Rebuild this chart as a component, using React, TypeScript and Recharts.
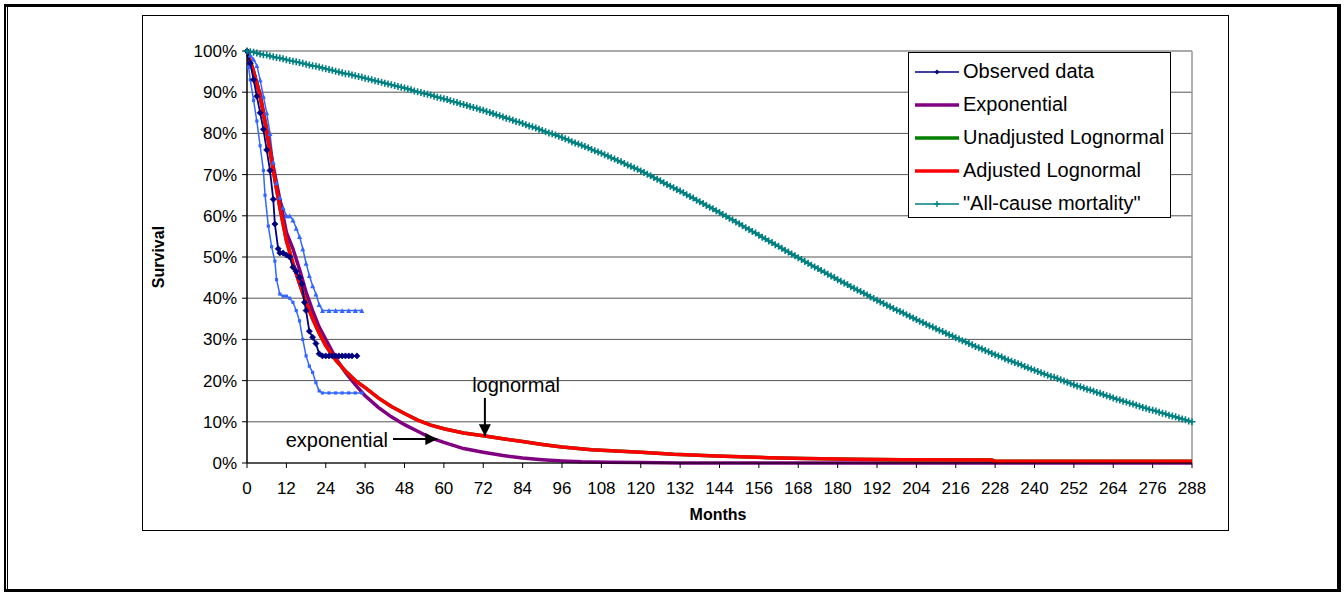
import { LineChart, Line, XAxis, YAxis, CartesianGrid, Legend, ReferenceLine, ReferenceDot } from "recharts"

const FONT = "'Liberation Sans', Arial, sans-serif"

// month ticks and survival ticks
const monthTicks = [0, 12, 24, 36, 48, 60, 72, 84, 96, 108, 120, 132, 144, 156, 168, 180, 192, 204, 216, 228, 240, 252, 264, 276, 288]
const survivalTicks = [0, 10, 20, 30, 40, 50, 60, 70, 80, 90, 100]

// Kaplan-Meier observed data
const obsMonths = [0, 1, 2, 3, 4, 5, 6, 7, 8, 8.5, 9.5, 10, 11, 12, 13, 14, 15, 16, 16.7, 17.5, 18, 19, 20, 21, 22, 23, 24, 25, 26, 27, 28, 29, 30, 31, 32, 33.5]
const obsSurvival = [100, 97, 93, 89, 85, 81, 76, 71, 64, 58, 52, 51, 51, 50.5, 50, 47.5, 46.5, 45, 43.5, 39, 37, 32, 30.5, 29, 26.5, 26, 26, 26, 26, 26, 26, 26, 26, 26, 26, 26]

// upper / lower confidence bounds (light blue)
const upperMonths = [0, 1, 2, 3, 4, 5, 6, 7, 8, 9, 10, 11, 12, 13, 14, 15, 16, 17, 18, 19, 20, 21, 22, 23, 25, 27, 29, 31, 33, 35]
const upperSurvival = [100, 99, 98, 96.5, 93, 89, 85, 80, 73, 68, 64.5, 62, 60, 60, 59, 57, 55, 52, 48.5, 45.5, 43, 41, 38.5, 37, 37, 37, 37, 37, 37, 37]
const lowerMonths = [0, 0.5, 1, 2, 3, 4, 5, 5.5, 6.5, 7.5, 8.5, 9, 10, 11, 12, 13, 14, 15, 16, 17, 18, 19, 20, 21, 22, 23, 25, 27, 29, 31, 33, 35]
const lowerSurvival = [100, 96, 93, 88, 83, 77, 71, 65, 57.5, 52.5, 49, 44.5, 41, 40.5, 40.5, 40, 39, 37, 34.5, 30, 26, 23.5, 22, 19.5, 17.5, 17, 17, 17, 17, 17, 17, 17]

// exponential fit
const expMonths = [0, 2, 4, 6, 8, 10, 12, 14, 16, 18, 20, 22, 24, 27, 30, 33, 36, 40, 44, 48, 52, 56, 60, 66, 72, 78, 84, 90, 96, 102, 110, 120, 132, 150, 180, 210, 240, 270, 288]
const expSurvival = [100, 95, 89.5, 81, 72, 64, 56, 52, 47, 41.5, 37, 33, 30, 25.5, 22, 19, 16.3, 13.5, 11.2, 9.3, 7.7, 6.1, 5.0, 3.5, 2.6, 1.8, 1.2, 0.8, 0.5, 0.3, 0.2, 0.1, 0, 0, 0, 0, 0, 0, 0]

// lognormal fits (unadjusted lies underneath the adjusted curve)
const lognMonths = [0, 2, 4, 6, 8, 10, 12, 14, 16, 18, 20, 22, 24, 27, 30, 33, 36, 40, 44, 48, 52, 56, 60, 66, 72, 78, 84, 90, 96, 105, 120, 130, 143, 159, 170, 185, 200, 227, 228, 288]
const adjLognSurvival = [100, 95, 89, 80.5, 71, 62, 54, 48.5, 43.5, 39, 35, 31.5, 28.5, 25, 22.3, 20, 18.3, 15.8, 13.7, 12, 10.4, 9.2, 8.3, 7.3, 6.6, 5.9, 5.2, 4.5, 3.9, 3.2, 2.6, 2.1, 1.7, 1.3, 1.1, 0.9, 0.8, 0.7, 0.4, 0.4]
const unadjLognSurvival = [100, 95, 89, 80.5, 71, 62, 54, 48.5, 43.5, 39, 35, 31.5, 28.5, 25, 22.3, 20, 18.3, 15.8, 13.7, 12, 10.4, 9.2, 8.3, 7.3, 6.6, 5.9, 5.2, 4.5, 3.9, 3.2, 2.6, 2.1, 1.7, 1.3, 1.1, 0.9, 0.8, 0.7, 0.4, 0.4]

// all-cause mortality, one value per month (index = month 0..288)
const allCauseSurvival = [
  100, 99.8, 99.7, 99.5, 99.3, 99.1, 99.0, 98.8, 98.6, 98.4, 98.3, 98.1,
  97.9, 97.7, 97.5, 97.4, 97.2, 97.0, 96.8, 96.6, 96.4, 96.3, 96.1, 95.9,
  95.7, 95.5, 95.3, 95.1, 94.9, 94.7, 94.5, 94.4, 94.2, 94.0, 93.8, 93.6,
  93.4, 93.2, 93.0, 92.8, 92.6, 92.4, 92.2, 92.0, 91.8, 91.6, 91.4, 91.2,
  91.0, 90.8, 90.6, 90.3, 90.1, 89.9, 89.7, 89.5, 89.3, 89.0, 88.8, 88.6,
  88.4, 88.2, 87.9, 87.7, 87.5, 87.2, 87.0, 86.8, 86.5, 86.3, 86.1, 85.8,
  85.6, 85.3, 85.1, 84.8, 84.5, 84.3, 84.0, 83.7, 83.5, 83.2, 82.9, 82.7,
  82.4, 82.1, 81.8, 81.6, 81.3, 81.0, 80.7, 80.4, 80.1, 79.9, 79.6, 79.3,
  79.0, 78.7, 78.4, 78.0, 77.7, 77.4, 77.1, 76.8, 76.5, 76.1, 75.8, 75.5,
  75.2, 74.8, 74.5, 74.1, 73.8, 73.4, 73.1, 72.7, 72.3, 72.0, 71.6, 71.3,
  70.9, 70.5, 70.1, 69.7, 69.3, 68.9, 68.5, 68.0, 67.6, 67.2, 66.8, 66.4,
  66.0, 65.6, 65.1, 64.7, 64.3, 63.8, 63.4, 63.0, 62.5, 62.1, 61.7, 61.2,
  60.8, 60.3, 59.9, 59.4, 59.0, 58.5, 58.1, 57.6, 57.1, 56.7, 56.2, 55.8,
  55.3, 54.8, 54.4, 53.9, 53.5, 53.0, 52.6, 52.1, 51.6, 51.2, 50.7, 50.3,
  49.8, 49.4, 48.9, 48.5, 48.0, 47.6, 47.2, 46.7, 46.3, 45.8, 45.4, 45.0,
  44.5, 44.1, 43.7, 43.3, 42.8, 42.4, 42.0, 41.6, 41.2, 40.8, 40.3, 39.9,
  39.5, 39.1, 38.7, 38.3, 37.9, 37.5, 37.1, 36.8, 36.4, 36.0, 35.6, 35.2,
  34.8, 34.4, 34.1, 33.7, 33.3, 33.0, 32.6, 32.2, 31.9, 31.5, 31.1, 30.8,
  30.4, 30.1, 29.7, 29.4, 29.0, 28.7, 28.3, 28.0, 27.7, 27.3, 27.0, 26.6,
  26.3, 26.0, 25.7, 25.3, 25.0, 24.7, 24.4, 24.1, 23.8, 23.4, 23.1, 22.8,
  22.5, 22.2, 21.9, 21.6, 21.3, 21.0, 20.8, 20.5, 20.2, 19.9, 19.6, 19.3,
  19.0, 18.7, 18.5, 18.2, 17.9, 17.7, 17.4, 17.1, 16.9, 16.6, 16.3, 16.1,
  15.8, 15.5, 15.3, 15.0, 14.8, 14.5, 14.3, 14.0, 13.8, 13.5, 13.3, 13.0,
  12.8, 12.6, 12.3, 12.1, 11.9, 11.6, 11.4, 11.2, 10.9, 10.7, 10.5, 10.2,
  10.0,
]

const NAVY = "#000080"
const LIGHT_BLUE = "#3366FF"
const PURPLE = "#800080"
const GREEN = "#008000"
const RED = "#FF0000"
const TEAL = "#008080"

const toPoints = (months: number[], values: number[]) => months.map((m, i) => ({ month: m, value: values[i] }))

const observedData = toPoints(obsMonths, obsSurvival)
const upperData = toPoints(upperMonths, upperSurvival)
const lowerData = toPoints(lowerMonths, lowerSurvival)
const expData = toPoints(expMonths, expSurvival)
const unadjData = toPoints(lognMonths, unadjLognSurvival)
const adjData = toPoints(lognMonths, adjLognSurvival)
const allCauseData = allCauseSurvival.map((v, i) => ({ month: i, value: v }))

const diamondDot = (p: any) => {
  if (p.cx == null || p.cy == null) return <g key={`d-${p.index}`} />
  const s = 3
  return <path key={`d-${p.index}`} d={`M${p.cx},${p.cy - s}L${p.cx + s},${p.cy}L${p.cx},${p.cy + s}L${p.cx - s},${p.cy}Z`} fill={NAVY} stroke={NAVY} strokeWidth={0.8} />
}

const triangleDot = (p: any) => {
  if (p.cx == null || p.cy == null) return <g key={`t-${p.index}`} />
  const s = 2.5
  return <path key={`t-${p.index}`} d={`M${p.cx},${p.cy - s}L${p.cx + s},${p.cy + s}L${p.cx - s},${p.cy + s}Z`} fill={LIGHT_BLUE} />
}

const squareDot = (p: any) => {
  if (p.cx == null || p.cy == null) return <g key={`s-${p.index}`} />
  const s = 1.6
  return <rect key={`s-${p.index}`} x={p.cx - s} y={p.cy - s} width={s * 2} height={s * 2} fill={LIGHT_BLUE} />
}

const plusDot = (p: any) => {
  if (p.cx == null || p.cy == null) return <g key={`p-${p.index}`} />
  const s = 3.5
  return <path key={`p-${p.index}`} d={`M${p.cx - s},${p.cy}H${p.cx + s}M${p.cx},${p.cy - s}V${p.cy + s}`} stroke={TEAL} strokeWidth={1.6} fill="none" />
}

const legendItems = [
  { name: "Observed data", color: NAVY, width: 1.5, marker: "diamond" },
  { name: "Exponential", color: PURPLE, width: 3.5, marker: "" },
  { name: "Unadjusted Lognormal", color: GREEN, width: 3.5, marker: "" },
  { name: "Adjusted Lognormal", color: RED, width: 3.5, marker: "" },
  { name: "\"All-cause mortality\"", color: TEAL, width: 1.5, marker: "plus" },
]

function LegendBox() {
  return (
    <div
      style={{
        width: 263,
        height: 166,
        border: "1px solid #000",
        background: "#fff",
        boxSizing: "border-box",
        padding: "2px 0 0 6px",
        fontFamily: FONT,
        fontSize: 20,
        color: "#000",
      }}
    >
      {legendItems.map((item) => (
        <div key={item.name} style={{ display: "flex", alignItems: "center", height: 33, whiteSpace: "nowrap" }}>
          <svg width={44} height={12} style={{ flex: "none" }}>
            <line x1={0} y1={6} x2={44} y2={6} stroke={item.color} strokeWidth={item.width} />
            {item.marker === "diamond" && <path d="M22,3.5L24.5,6L22,8.5L19.5,6Z" fill={item.color} />}
            {item.marker === "plus" && <path d="M19,6H25M22,3V9" stroke={item.color} strokeWidth={1.4} />}
          </svg>
          <span style={{ marginLeft: 4 }}>{item.name}</span>
        </div>
      ))}
    </div>
  )
}

export default function App() {
  return (
    <div style={{ position: "absolute", left: 0, top: 0, width: 1344, height: 592, background: "#fff", fontFamily: FONT }}>
      {/* outer frame */}
      <div style={{ position: "absolute", left: 4, top: 4, width: 1337, height: 588, boxSizing: "border-box", borderStyle: "solid", borderColor: "#000", borderWidth: "3px 4px 3px 2px" }} />
      <div style={{ position: "absolute", left: 7, top: 7, width: 1, height: 582, background: "#000" }} />
      {/* chart area box */}
      <div style={{ position: "absolute", left: 142, top: 15, width: 1087, height: 516, boxSizing: "border-box", border: "1px solid #000" }} />

      <div style={{ position: "absolute", left: 0, top: 0 }}>
        <LineChart width={1344} height={592} margin={{ top: 51, right: 152, bottom: 99, left: 0 }}>
          <defs>
            <marker id="arrowHead" markerWidth="6" markerHeight="6" refX="6" refY="3" orient="auto" markerUnits="strokeWidth">
              <path d="M0,0 L6,3 L0,6 Z" fill="#000" />
            </marker>
          </defs>
          <CartesianGrid vertical={false} stroke="#555" strokeWidth={1} />
          <XAxis
            dataKey="month"
            type="number"
            domain={[0, 288]}
            ticks={monthTicks}
            interval={0}
            height={30}
            tickSize={5}
            tickMargin={14}
            axisLine={{ stroke: "#000", strokeWidth: 1 }}
            tickLine={{ stroke: "#000" }}
            tick={{ fontFamily: FONT, fontSize: 17, fill: "#000" }}
            allowDuplicatedCategory={false}
          />
          <YAxis
            type="number"
            domain={[0, 100]}
            ticks={survivalTicks}
            interval={0}
            width={247}
            tickSize={5}
            tickMargin={5}
            axisLine={{ stroke: "#000", strokeWidth: 1.5 }}
            tickLine={{ stroke: "#000" }}
            tick={{ fontFamily: FONT, fontSize: 17, fill: "#000" }}
            tickFormatter={(v) => `${v}%`}
          />
          <ReferenceLine x={288} stroke="#999" strokeWidth={1.5} />

          <Line data={upperData} dataKey="value" stroke={LIGHT_BLUE} strokeWidth={1.5} dot={triangleDot} isAnimationActive={false} />
          <Line data={lowerData} dataKey="value" stroke={LIGHT_BLUE} strokeWidth={1.5} dot={squareDot} isAnimationActive={false} />
          <Line data={expData} dataKey="value" name="Exponential" stroke={PURPLE} strokeWidth={3.5} dot={false} isAnimationActive={false} />
          <Line data={unadjData} dataKey="value" name="Unadjusted Lognormal" stroke={GREEN} strokeWidth={3.5} dot={false} isAnimationActive={false} />
          <Line data={adjData} dataKey="value" name="Adjusted Lognormal" stroke={RED} strokeWidth={3.5} dot={false} isAnimationActive={false} />
          <Line data={observedData} dataKey="value" name="Observed data" stroke={NAVY} strokeWidth={1.8} dot={diamondDot} isAnimationActive={false} />
          <Line data={allCauseData} dataKey="value" name="All-cause mortality" stroke={TEAL} strokeWidth={2} dot={plusDot} isAnimationActive={false} />

          {/* annotations */}
          <ReferenceLine segment={[{ x: 72.5, y: 15.8 }, { x: 72.5, y: 6.5 }]} stroke="#000" strokeWidth={2} markerEnd="url(#arrowHead)" />
          <ReferenceLine segment={[{ x: 44.5, y: 5.8 }, { x: 58, y: 5.8 }]} stroke="#000" strokeWidth={2} markerEnd="url(#arrowHead)" />
          <ReferenceDot x={82} y={18.9} r={0} fill="none" stroke="none" label={{ value: "lognormal", position: "center", fontFamily: FONT, fontSize: 20, fill: "#000" }} />
          <ReferenceDot x={27.4} y={5.6} r={0} fill="none" stroke="none" label={{ value: "exponential", position: "center", fontFamily: FONT, fontSize: 20, fill: "#000" }} />

          <text x={158} y={257} transform="rotate(-90 158 257)" textAnchor="middle" dominantBaseline="central" fontFamily={FONT} fontSize={16} fontWeight="bold" fill="#000">
            Survival
          </text>
          <text x={718} y={514} textAnchor="middle" dominantBaseline="central" fontFamily={FONT} fontSize={16} fontWeight="bold" fill="#000">
            Months
          </text>

          <Legend
            layout="vertical"
            align="center"
            verticalAlign="middle"
            wrapperStyle={{ left: 908, top: 52, width: 263, height: 166 }}
            content={() => <LegendBox />}
          />
        </LineChart>
      </div>
    </div>
  )
}
